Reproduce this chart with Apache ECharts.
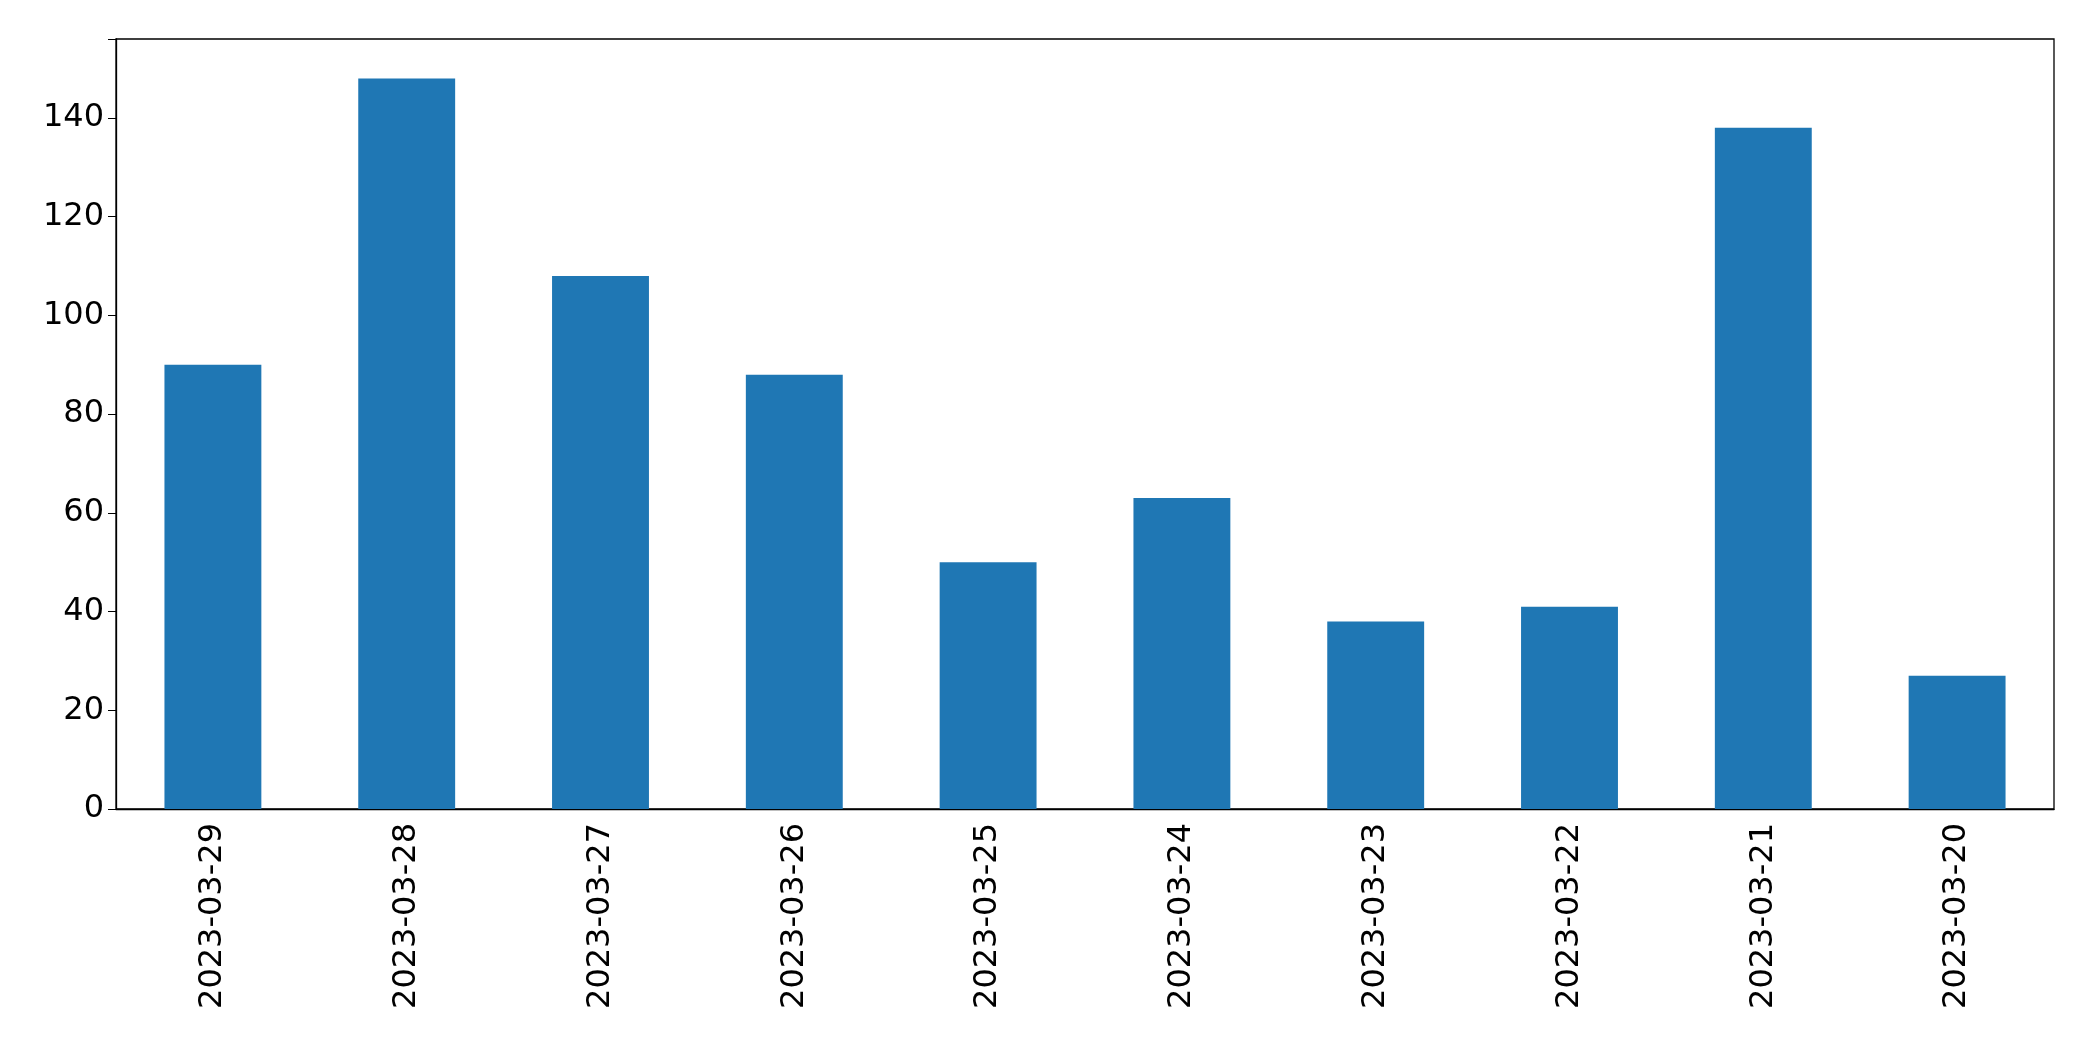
<!DOCTYPE html>
<html><head><meta charset="utf-8">
<script src="https://cdn.jsdelivr.net/npm/echarts@6/dist/echarts.min.js"></script>
<style>html,body{margin:0;padding:0;background:#fff}#c{width:2093px;height:1061px}</style>
</head><body><div id="c"></div>
<script>
const categories = ["2023-03-29","2023-03-28","2023-03-27","2023-03-26","2023-03-25","2023-03-24","2023-03-23","2023-03-22","2023-03-21","2023-03-20"];
const values = [90,148,108,88,50,63,38,41,138,27];
const yTicks = [0,20,40,60,80,100,120,140];
const chart = echarts.init(document.getElementById('c'));
chart.setOption({
  animation:false,
  grid:{left:116,right:39,top:39,bottom:252,show:true,borderColor:'#000',borderWidth:1.3},
  xAxis:{type:'category',data:categories,
    axisLine:{lineStyle:{color:'#000',width:1.3}},
    axisTick:{alignWithLabel:true,length:8,lineStyle:{color:'#000'}},
    axisLabel:{rotate:90,fontSize:32,color:'#000',fontFamily:'DejaVu Sans',margin:14}},
  yAxis:{type:'value',min:0,max:156,interval:20,
    axisLine:{show:true,lineStyle:{color:'#000',width:1.3}},
    axisTick:{show:true,length:8,lineStyle:{color:'#000'}},
    splitLine:{show:false},
    axisLabel:{fontSize:32,color:'#000',fontFamily:'DejaVu Sans',margin:12,
      formatter:v=>yTicks.includes(v)?String(v):''}},
  series:[{type:'bar',data:values,barWidth:'50%',itemStyle:{color:'#1f77b4'}}]
});
</script></body></html>
